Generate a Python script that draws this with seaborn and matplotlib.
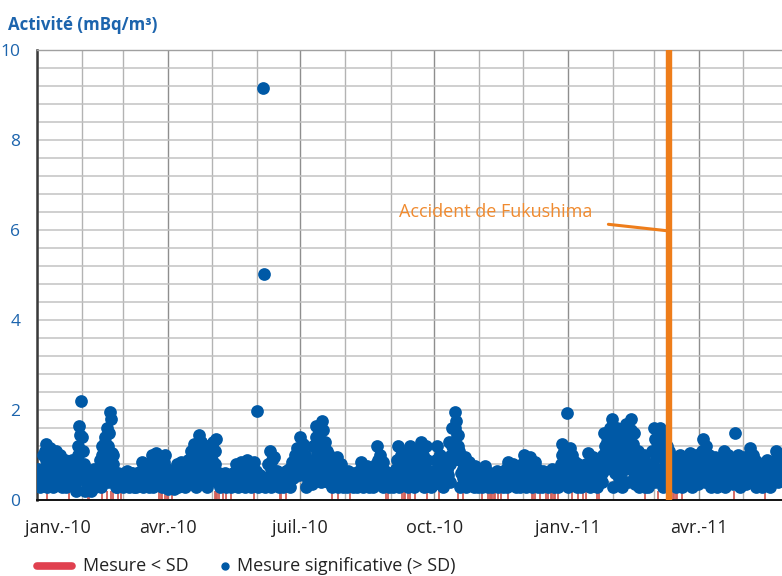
import numpy as np
import pandas as pd
import matplotlib
matplotlib.use("Agg")
import matplotlib.pyplot as plt
import matplotlib.dates as mdates
import matplotlib.transforms as mtransforms
from matplotlib.lines import Line2D
import seaborn as sns

sns.set_theme(style="white")
plt.rcParams["font.family"] = ["Open Sans", "DejaVu Sans"]

# ---------------- data ----------------
start_date = "2010-01-01"
# first daily reading (mBq/m3)
activity = [
    0.4, 0.7, 0.3, 0.6,
    1.0, 0.5, 1.25, 0.3, 0.8,
    1.15, 0.6, 0.3, 0.9, 1.1, 0.4, 0.7, 1.0, 0.3,
    0.6, 0.9, 0.3, 0.5, 0.8, 0.4, 0.9,
    0.5, 0.9, 0.2, 1.2, 1.65, 2.2, 1.4, 0.8,
    0.2, 0.7, 0.4, 0.6, 0.2, 0.5, 0.7, 0.3, 0.6, 0.4,
    0.9, 0.3, 1.2, 0.6, 1.4, 1.6, 0.4, 1.95, 1.8, 1.0, 0.6, 0.3,
    0.3, 0.6, 0.4, 0.5, 0.3, 0.6, 0.4, 0.65, 0.3, 0.5, 0.6, 0.35, 0.5, 0.3, 0.6, 0.45,
    0.5, 0.85, 0.3, 0.7, 0.4, 0.8, 0.3,
    0.6, 1.0, 0.3, 0.8, 1.05, 0.4, 0.7, 0.95, 0.3, 0.6, 1.0, 0.5,
    0.25, 0.45, 0.3, 0.4, 0.25,
    0.5, 0.8, 0.3, 0.65, 0.85, 0.4, 0.7, 0.3, 0.6,
    0.9, 0.4, 1.1, 0.6, 1.25, 0.3,
    1.0, 1.45, 0.6,
    1.3, 0.4, 0.9, 1.2, 0.3, 0.7, 1.1, 0.5, 1.3, 0.8, 1.35,
    0.4, 0.6, 0.3, 0.5, 0.35, 0.6, 0.3, 0.45, 0.55, 0.3, 0.5, 0.6,
    0.4, 0.8, 0.3, 0.6, 0.85, 0.4, 0.7, 0.3, 0.9, 0.5, 0.75, 0.3, 0.6, 0.85, 0.4,
    1.98, 0.3, 0.55, 0.4, 9.15, 5.02, 0.3, 0.5,
    0.8, 1.1, 0.3, 0.6, 0.95,
    0.4, 0.65, 0.3, 0.5, 0.6, 0.3, 0.45, 0.65,
    0.4, 0.7, 0.3, 0.85, 0.5, 1.0, 0.6, 1.15, 0.55,
    1.4, 0.9, 1.2, 0.6,
    0.3, 0.9, 0.5, 0.75, 0.35,
    1.2, 0.6, 1.65, 0.8, 1.45, 0.4, 1.75, 1.0, 1.3, 0.7,
    0.4, 1.0, 0.6, 0.3, 0.85, 0.5, 0.95, 0.3, 0.7, 0.8,
    0.3, 0.6, 0.45, 0.3, 0.65, 0.4, 0.55, 0.3, 0.6, 0.4, 0.3, 0.65,
    0.5, 0.85, 0.3, 0.7, 0.4,
    0.6, 0.3, 0.45, 0.65, 0.3, 0.5,
    0.8, 1.2, 0.4, 1.0, 0.6,
    0.3, 0.65, 0.4, 0.55, 0.3, 0.6, 0.45, 0.3, 0.65,
    0.7, 1.2, 0.3, 1.0, 0.5,
    0.9, 0.4, 0.7, 0.3,
    1.2, 0.6,
    1.0, 0.3, 0.8, 0.5,
    1.1, 0.4, 1.3, 0.7, 0.3, 1.2, 0.9,
    0.4, 0.65, 0.3, 0.5, 0.6,
    0.9, 1.2, 0.4, 1.0, 0.6,
    0.3, 0.85, 0.5, 0.7,
    1.3, 0.4, 1.6, 0.9, 1.95, 1.75, 1.45, 1.1,
    0.3, 0.9, 0.5, 0.95, 0.3, 0.7, 0.85, 0.4,
    0.6, 0.3, 0.75, 0.45, 0.3, 0.7, 0.5, 0.3, 0.65, 0.75, 0.4,
    0.3, 0.6, 0.4, 0.3, 0.55,
    0.4, 0.65, 0.3, 0.5, 0.6, 0.3, 0.45,
    0.7, 0.3, 0.85, 0.5, 0.4, 0.8, 0.6,
    0.3, 0.75, 0.5, 0.3, 0.8,
    0.6, 1.0, 0.3, 0.8, 0.45, 0.95, 0.3, 0.7,
    0.85, 0.4,
    0.3, 0.6, 0.45, 0.3, 0.65, 0.4, 0.55, 0.3, 0.6,
    0.4, 0.7, 0.3, 0.55, 0.65, 0.3, 0.5,
    0.8, 1.25, 0.5,
    1.0, 1.94, 0.3, 1.15, 0.6, 1.0, 0.4, 0.85,
    0.3, 0.8, 0.5, 0.3, 0.7, 0.45, 0.8,
    0.5, 1.05, 0.3, 0.8, 0.95, 0.4, 0.6,
    0.3, 0.8, 0.5, 0.6,
    1.0, 1.5, 0.7, 1.3, 0.9,
    1.6, 1.8, 0.3, 1.3, 0.8, 1.5, 0.5,
    1.1, 0.3, 1.4, 0.7, 1.6, 0.4, 1.2, 1.8, 0.9, 1.5, 0.35,
    0.7, 1.1, 0.3, 0.9, 0.5, 1.0, 0.3,
    0.6, 0.3, 0.8, 0.45,
    1.1, 1.6, 0.4, 1.3, 0.7, 1.6, 1.0, 0.3, 1.45,
    0.8, 1.2, 0.5, 1.0,
    0.4, 0.85, 0.6, 0.3, 0.75,
    0.5, 1.0, 0.3, 0.8, 0.6, 0.95, 0.4,
    0.7, 1.05, 0.3, 0.9, 0.5, 1.0, 0.35, 0.8, 0.6,
    1.1, 1.35, 0.4, 0.9,
    0.6, 1.0, 0.3, 0.8, 0.5, 0.95, 0.3, 0.7, 0.9, 0.45,
    0.8, 1.1, 0.3, 0.6, 1.0, 0.45, 0.9,
    0.35, 0.8, 1.49,
    0.6, 1.0, 0.3, 0.8, 0.5, 0.95, 0.35, 0.7,
    0.9, 1.15, 0.4, 1.0, 0.6,
    0.3, 0.85, 0.5, 0.7, 0.3, 0.6,
    0.8, 0.35, 0.9, 0.5, 0.3, 0.75, 0.6,
    0.9, 1.1, 0.4, 0.7, 1.0,
]

# second daily reading (mBq/m3)
activity_2 = [
    0.55, 0.35, 0.5, 0.45,
    0.7, 1.1, 0.9, 0.6, 1.05,
    0.8, 1.0, 0.5, 0.7, 0.85, 0.6, 0.95, 0.5, 0.75,
    0.45, 0.7, 0.6, 0.75, 0.55, 0.65, 0.5,
    0.7, 0.4, 0.6, 1.0, 1.45, 0.8, 1.1, 0.5,
    0.45, 0.3, 0.55, 0.35, 0.6, 0.3, 0.45, 0.55, 0.35, 0.5,
    0.6, 1.0, 0.8, 1.3, 0.9, 1.2, 1.5, 0.7, 1.05, 0.8, 0.45, 0.5,
    0.45, 0.35, 0.55, 0.4, 0.5, 0.35, 0.55, 0.45, 0.4, 0.6, 0.45, 0.3, 0.55, 0.45, 0.35, 0.55,
    0.65, 0.45, 0.55, 0.4, 0.6, 0.5, 0.7,
    0.8, 0.45, 0.65, 0.5, 0.85, 0.6, 0.9, 0.5, 0.75, 0.85, 0.4, 0.7,
    0.35, 0.3, 0.4, 0.3, 0.35,
    0.4, 0.6, 0.7, 0.45, 0.55, 0.75, 0.5, 0.65, 0.45,
    0.6, 0.8, 0.5, 1.0, 0.7, 0.9,
    1.2, 0.8, 1.3,
    0.8, 1.05, 0.6, 0.5, 1.0, 1.2, 0.6, 0.9, 0.7, 1.1, 0.6,
    0.5, 0.35, 0.45, 0.4, 0.55, 0.45, 0.5, 0.35, 0.4, 0.5, 0.35, 0.45,
    0.6, 0.5, 0.7, 0.45, 0.55, 0.65, 0.5, 0.75, 0.6, 0.4, 0.55, 0.7, 0.45, 0.5, 0.65,
    0.6, 0.45, 0.35, 0.5, 0.45, 0.4, 0.5, 0.35,
    0.5, 0.7, 0.9, 0.45, 0.65,
    0.5, 0.35, 0.55, 0.4, 0.35, 0.5, 0.55, 0.4,
    0.55, 0.5, 0.6, 0.7, 0.75, 0.8, 0.9, 0.95, 0.85,
    1.1, 1.25, 0.75, 1.0,
    0.6, 0.45, 0.7, 0.55, 0.8,
    0.9, 1.4, 1.05, 1.5, 0.6, 1.2, 1.55, 0.5, 0.9, 1.1,
    0.75, 0.55, 0.85, 0.65, 0.45, 0.75, 0.55, 0.65, 0.45, 0.55,
    0.45, 0.35, 0.55, 0.5, 0.4, 0.55, 0.35, 0.45, 0.5, 0.35, 0.55, 0.45,
    0.65, 0.55, 0.6, 0.45, 0.75,
    0.4, 0.5, 0.55, 0.35, 0.45, 0.55,
    0.6, 0.9, 0.7, 0.5, 0.85,
    0.5, 0.4, 0.55, 0.35, 0.45, 0.5, 0.35, 0.55, 0.45,
    0.9, 0.5, 0.8, 0.65, 1.05,
    0.6, 0.75, 0.5, 0.55,
    0.9, 1.0,
    0.6, 0.75, 0.45, 0.9,
    0.7, 0.9, 0.55, 1.0, 0.85, 0.6, 0.45,
    0.5, 0.45, 0.55, 0.35, 0.45,
    0.6, 0.75, 0.95, 0.55, 0.8,
    0.6, 0.45, 0.7, 0.55,
    0.8, 1.0, 1.2, 1.3, 1.6, 1.45, 1.2, 0.9,
    0.6, 0.7, 0.75, 0.6, 0.8, 0.5, 0.6, 0.75,
    0.45, 0.55, 0.5, 0.6, 0.55, 0.45, 0.6, 0.5, 0.4, 0.55, 0.6,
    0.45, 0.4, 0.5, 0.45, 0.35,
    0.5, 0.45, 0.55, 0.4, 0.45, 0.55, 0.35,
    0.5, 0.6, 0.65, 0.7, 0.6, 0.5, 0.45,
    0.55, 0.45, 0.65, 0.6, 0.45,
    0.8, 0.5, 0.7, 0.55, 0.85, 0.6, 0.75, 0.5,
    0.6, 0.7,
    0.5, 0.4, 0.55, 0.45, 0.35, 0.5, 0.4, 0.55, 0.45,
    0.55, 0.45, 0.6, 0.4, 0.5, 0.55, 0.45,
    1.0, 0.6, 1.1,
    0.7, 0.8, 1.0, 0.75, 0.9, 0.5, 0.7, 0.6,
    0.6, 0.45, 0.65, 0.55, 0.4, 0.6, 0.5,
    0.75, 0.6, 0.85, 0.45, 0.65, 0.8, 0.5,
    0.55, 0.45, 0.65, 0.4,
    0.8, 1.2, 1.4, 1.0, 1.15,
    1.25, 1.0, 1.4, 0.6, 1.6, 1.1, 0.9,
    0.6, 1.3, 0.9, 1.7, 1.0, 1.35, 0.8, 1.55, 1.25, 0.6, 0.9,
    0.9, 0.5, 0.75, 0.6, 0.8, 0.45, 0.65,
    0.45, 0.65, 0.55, 0.7,
    0.8, 1.35, 0.95, 0.6, 1.45, 1.2, 0.5, 1.3, 0.9,
    1.0, 0.6, 1.1, 0.7,
    0.65, 0.5, 0.45, 0.7, 0.55,
    0.8, 0.65, 0.55, 0.45, 0.9, 0.7, 0.75,
    0.5, 0.85, 0.65, 0.45, 0.75, 0.6, 0.9, 0.5, 0.95,
    0.7, 1.0, 1.2, 0.6,
    0.8, 0.45, 0.65, 0.55, 0.85, 0.4, 0.75, 0.55, 0.6, 0.8,
    0.55, 0.7, 0.9, 0.45, 0.75, 0.85, 0.6,
    0.55, 0.65, 0.9,
    0.8, 0.45, 0.65, 0.55, 0.85, 0.4, 0.75, 0.55,
    0.7, 0.55, 0.85, 0.6, 0.9,
    0.45, 0.6, 0.35, 0.55, 0.45, 0.75,
    0.55, 0.65, 0.45, 0.7, 0.6, 0.4, 0.5,
    0.6, 0.8, 0.55, 0.95, 0.5,
]

# days (offset from start) with a measurement below the decision threshold
below_sd_days = [0, 7, 22, 35, 36, 45, 48, 51, 52, 56, 58, 84, 85, 86, 88, 89,
                 90, 93, 122, 123, 124, 125, 128, 130, 133, 149, 167, 168, 171,
                 203, 207, 215, 240, 241, 251, 252, 253, 255, 256, 260, 268, 276,
                 289, 293, 306, 310, 311, 312, 313, 314, 315, 317, 319, 324, 340,
                 341, 342, 346, 350, 351, 353, 354, 355, 356, 358, 368, 372, 375,
                 377, 385, 386, 418, 427, 437, 438, 439, 440, 443, 479, 500]
below_sd_value = 0.2

tick_dates = ["2010-01-01", "2010-04-01", "2010-07-01", "2010-10-01",
              "2011-01-01", "2011-04-01"]
tick_labels = ["janv.-10", "avr.-10", "juil.-10", "oct.-10", "janv.-11", "avr.-11"]
accident_date = "2011-03-11"
accident_label = "Accident de Fukushima"
y_title = "Activité (mBq/m³)"
legend_labels = ["Mesure < SD", "Mesure significative (> SD)"]

# ---------------- figure ----------------
BLUE = "#0059a6"
TXT_BLUE = "#1c64ad"
ORANGE = "#ee7d1a"
RED = "#d2605a"

W, H = 782, 576
fig = plt.figure(figsize=(W / 100, H / 100), dpi=100)
fig.patch.set_facecolor("white")
ax = fig.add_axes([37 / W, 76 / H, 745 / W, 450 / H])

d1 = pd.date_range(start_date, periods=len(activity), freq="D")
d2 = pd.date_range(pd.Timestamp(start_date) + pd.Timedelta(hours=12),
                   periods=len(activity_2), freq="D")
df = pd.DataFrame({"date": list(d1) + list(d2),
                   "activity": list(activity) + list(activity_2)})
below_dates = pd.Timestamp(start_date) + pd.to_timedelta(below_sd_days, unit="D")

ax.vlines(below_dates, 0, below_sd_value, color=RED, lw=1.3, zorder=2)
sns.scatterplot(data=df, x="date", y="activity", color=BLUE, s=84,
                linewidth=0, ax=ax, zorder=3, legend=False)
ax.axvline(pd.Timestamp(accident_date), color=ORANGE, lw=4.6, zorder=5)

ax.set_xlim(pd.Timestamp(start_date), pd.Timestamp("2011-05-28"))
ax.set_ylim(0, 10)

# grid
ax.set_yticks(np.arange(0, 10.01, 2))
ax.set_yticks(np.arange(0, 10.01, 0.4), minor=True)
ax.set_xticks(pd.to_datetime(tick_dates))
ax.set_xticklabels(tick_labels)
ax.xaxis.set_minor_locator(mdates.MonthLocator())
ax.set_axisbelow(True)
ax.grid(which="both", axis="y", color="#c2c2c2", lw=1.1)
ax.grid(which="minor", axis="x", color="#b3b3b3", lw=1.0)
ax.grid(which="major", axis="x", color="#8e8e8e", lw=1.0)

ax.tick_params(which="minor", length=0)
ax.tick_params(axis="y", which="major", length=4, width=1.2, color="#333333",
               labelsize=12.5, labelcolor=TXT_BLUE, pad=8)
ax.tick_params(axis="x", which="major", length=5, width=1.0, color="#777777",
               labelsize=13, labelcolor="#222222", pad=9)
ax.set_xlabel("")
ax.set_ylabel("")

first = ax.get_xticklabels()[0]
first.set_transform(first.get_transform() +
                    mtransforms.ScaledTranslation(21 / 100, 0, fig.dpi_scale_trans))

ax.spines["right"].set_visible(False)
ax.spines["top"].set_color("#a0a0a0")
ax.spines["top"].set_linewidth(1.0)
ax.spines["left"].set_color("#3a3a3a")
ax.spines["left"].set_linewidth(1.8)
ax.spines["bottom"].set_color("#111111")
ax.spines["bottom"].set_linewidth(1.4)

# annotation
ax.annotate(accident_label, xy=(pd.Timestamp(accident_date), 5.98),
            xytext=(pd.Timestamp("2010-09-07"), 6.4),
            ha="left", va="center", fontsize=13, color="#f08a2e",
            arrowprops=dict(arrowstyle="-", color=ORANGE, lw=2.2,
                            shrinkA=9, shrinkB=0),
            zorder=6)

# title
fig.text(8 / W, 1 - 25 / H, y_title, fontsize=12.2, fontweight="bold",
         color=TXT_BLUE, ha="left", va="center")

# legend (manual)
ly = 1 - 566 / H
fig.add_artist(Line2D([37 / W, 72 / W], [ly, ly], color="#e0404f", lw=5.5,
                      transform=fig.transFigure))
fig.text(83 / W, ly, legend_labels[0], fontsize=13, color="#222222",
         ha="left", va="center")
fig.add_artist(Line2D([225 / W], [ly], marker="o", color=BLUE, markersize=5,
                      lw=0, transform=fig.transFigure))
fig.text(237 / W, ly, legend_labels[1], fontsize=13, color="#222222",
         ha="left", va="center")

fig.savefig("out.png", dpi=100)
